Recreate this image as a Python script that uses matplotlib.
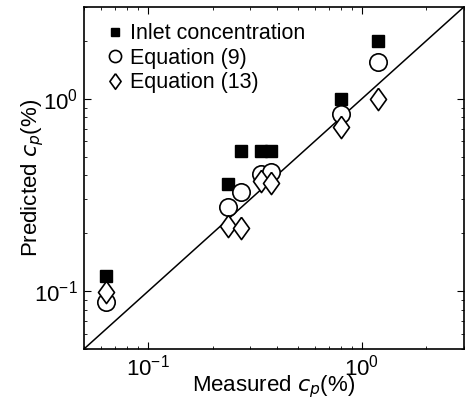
import matplotlib.pyplot as plt
from matplotlib.ticker import LogLocator, NullFormatter

plt.rcParams['font.family'] = ['Liberation Sans', 'DejaVu Sans']

# measured concentration (%)
measured = [0.0633, 0.235, 0.272, 0.336, 0.375, 0.795, 1.19]
# predicted values
inlet = [0.120, 0.361, 0.538, 0.538, 0.538, 1.0, 1.99]
eq9 = [0.088, 0.273, 0.329, 0.407, 0.418, 0.832, 1.56]
eq13 = [0.099, 0.218, 0.212, 0.374, 0.364, 0.709, 1.0]
lims = [0.05, 3]

# matlab style diamond, taller than wide
diamond = [(0, 1), (0.72, 0), (0, -1), (-0.72, 0), (0, 1)]

fig = plt.figure(figsize=(4.71, 4.05), dpi=100)
ax = fig.add_axes([0.178, 0.138, 0.807, 0.845])

ax.plot(lims, lims, color='black', lw=1.1)
ax.plot(measured, inlet, 's', color='black', ms=8, label='Inlet concentration')
ax.plot(measured, eq9, 'o', mfc='white', mec='black', mew=1.2, ms=12.5, label='Equation (9)')
ax.plot(measured, eq13, marker=diamond, ls='none', mfc='white', mec='black', mew=1.2, ms=16,
        label='Equation (13)')

ax.set_xscale('log')
ax.set_yscale('log')
ax.set_xlim(lims)
ax.set_ylim(lims)

for a in (ax.xaxis, ax.yaxis):
    a.set_major_locator(LogLocator(base=10))
    a.set_minor_locator(LogLocator(base=10, subs=range(2, 10)))
    a.set_minor_formatter(NullFormatter())
ax.tick_params(which='both', direction='in', top=True, right=True, labelsize=16)
ax.tick_params(which='major', length=5, pad=4)
ax.tick_params(which='minor', length=2.5)
for s in ax.spines.values():
    s.set_linewidth(1.2)

ax.set_xlabel('Measured $c_p$(%)', fontsize=16, labelpad=-5)
ax.set_ylabel('Predicted $c_p$(%)', fontsize=16, labelpad=-8)

ax.legend(loc='upper left', bbox_to_anchor=(0, 1.022), frameon=False, fontsize=15.5,
          handlelength=0.7, handletextpad=0.35, labelspacing=0.17, borderpad=0.4,
          borderaxespad=0.7, markerscale=0.7)

fig.savefig('out.png', dpi=100)
